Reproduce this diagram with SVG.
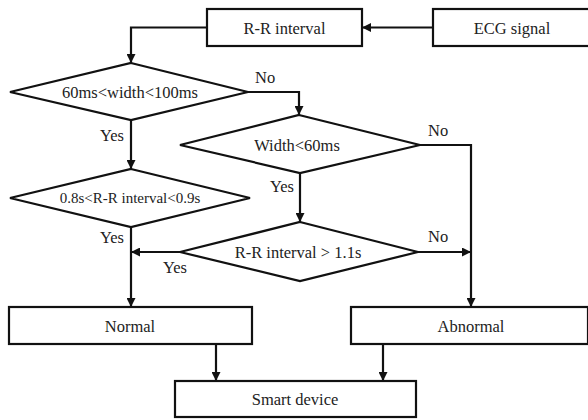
<svg xmlns="http://www.w3.org/2000/svg" width="588" height="420" viewBox="0 0 588 420">
<defs>
<style>
.box{fill:#fff;stroke:#111;stroke-width:2.2}
.t{font-family:'Liberation Serif','DejaVu Serif',serif;font-size:16.5px;fill:#222;text-anchor:middle}
.s{font-size:15px}
.lbl{font-family:'Liberation Serif','DejaVu Serif',serif;font-size:16.5px;fill:#222}
.c{fill:none;stroke:#111;stroke-width:2.2}
</style>
<marker id="ah" viewBox="0 0 10 10" refX="10" refY="5" markerWidth="10" markerHeight="9" markerUnits="userSpaceOnUse" orient="auto">
<path d="M0,0 L10,5 L0,10 z" fill="#111"/>
</marker>
</defs>
<rect width="588" height="420" fill="#fff"/>
<g id="connectors">
<path class="c" d="M433,27.5 H362" marker-end="url(#ah)"/>
<path class="c" d="M207,27.5 H131 V63" marker-end="url(#ah)"/>
<path class="c" d="M248,92 H299 V115" marker-end="url(#ah)"/>
<path class="c" d="M131,120 V169" marker-end="url(#ah)"/>
<path class="c" d="M420,145 H471 V307" marker-end="url(#ah)"/>
<path class="c" d="M300,173 V222" marker-end="url(#ah)"/>
<path class="c" d="M418,252 H471" marker-end="url(#ah)"/>
<path class="c" d="M180,252 H131" marker-end="url(#ah)"/>
<path class="c" d="M131,227 V307" marker-end="url(#ah)"/>
<path class="c" d="M216,344 V381" marker-end="url(#ah)"/>
<path class="c" d="M383,344 V381" marker-end="url(#ah)"/>
<text class="lbl" x="255" y="83">No</text>
<text class="lbl" x="100" y="141">Yes</text>
<text class="lbl" x="428" y="136">No</text>
<text class="lbl" x="270" y="192">Yes</text>
<text class="lbl" x="100" y="243">Yes</text>
<text class="lbl" x="428" y="242">No</text>
<text class="lbl" x="163" y="273">Yes</text>
</g>
<g id="ecg"><rect class="box" x="433" y="9" width="157" height="37"/><text class="t" x="512" y="33.5">ECG signal</text></g>
<g id="rr"><rect class="box" x="207" y="9" width="155" height="37"/><text class="t" x="284.5" y="33.5">R-R interval</text></g>
<g id="d1"><polygon class="box" points="131,63 248,92 131,120 10,92"/><text class="t" x="130" y="98">60ms&lt;width&lt;100ms</text></g>
<g id="d2"><polygon class="box" points="299,115 420,145 300,173 180,145"/><text class="t" x="297" y="151">Width&lt;60ms</text></g>
<g id="d4"><polygon class="box" points="131,169 250,198 131,227 10,198"/><text class="t s" x="130" y="203">0.8s&lt;R-R interval&lt;0.9s</text></g>
<g id="d3"><polygon class="box" points="300,222 418,252 300,281 180,252"/><text class="t" x="298" y="258">R-R interval &gt; 1.1s</text></g>
<g id="normal"><rect class="box" x="9" y="307" width="243" height="37"/><text class="t" x="130" y="332">Normal</text></g>
<g id="abnormal"><rect class="box" x="351" y="307" width="237" height="37"/><text class="t" x="471" y="332">Abnormal</text></g>
<g id="smart"><rect class="box" x="175" y="381" width="241" height="36"/><text class="t" x="295" y="405">Smart device</text></g>
</svg>
